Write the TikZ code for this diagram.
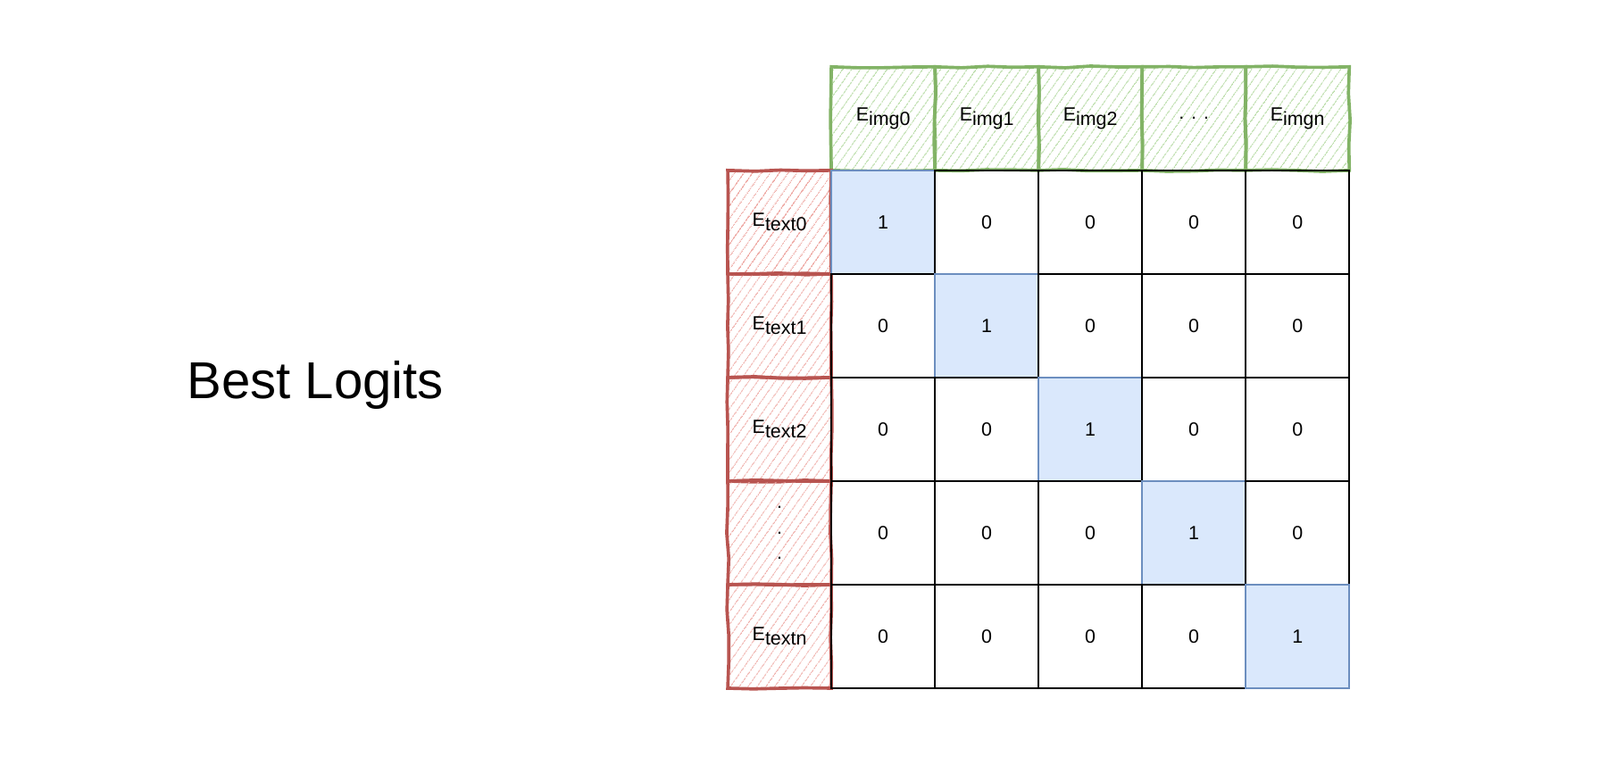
\documentclass[tikz,border=0pt]{standalone}
\usepackage{fontspec}
\setmainfont{Liberation Sans}
\usetikzlibrary{patterns.meta,decorations.pathmorphing}

\definecolor{imgline}{HTML}{82B366}
\definecolor{imghatch}{HTML}{B3D9A0}
\definecolor{txtline}{HTML}{B85450}
\definecolor{txthatch}{HTML}{EFADA8}
\definecolor{diagline}{HTML}{6C8EBF}
\definecolor{diagfill}{HTML}{DAE8FC}

\newcommand{\cellfont}{\fontsize{10.5}{14}\selectfont}
\newcommand{\titlefont}{\fontsize{28.5}{34}\selectfont}
\newcommand{\embsub}[1]{E\raisebox{-0.45ex}{#1}}

\tikzset{
	cell/.style={draw, line width=1.2pt, minimum size=2cm, inner sep=0pt, font=\cellfont},
	diagcell/.style={cell, draw=diagline, fill=diagfill},
	sketch/.style={line width=1.8pt, minimum size=2cm, inner sep=0pt, font=\cellfont, align=center,
		decorate, decoration={random steps, segment length=14pt, amplitude=0.6pt}},
	imgbox/.style={sketch, draw=imgline, pattern={Lines[angle=55,distance=4pt,line width=0.55pt]}, pattern color=imghatch},
	txtbox/.style={sketch, draw=txtline, pattern={Lines[angle=55,distance=4pt,line width=0.55pt]}, pattern color=txthatch}
}

\begin{document}
\begin{tikzpicture}
	\useasboundingbox (-16.05,3.29) rectangle (14.84,-11.47);
	
	% title
	\node [font=\titlefont, anchor=base] (title) at (-9.96,-4.41) {Best Logits};
	
	% image embeddings
	\node [imgbox] (img0) at (1,1) {\embsub{img0}};
	\node [imgbox] (img1) at (3,1) {\embsub{img1}};
	\node [imgbox] (img2) at (5,1) {\embsub{img2}};
	\node [imgbox] (imgd) at (7,1) {. . .};
	\node [imgbox] (imgn) at (9,1) {\embsub{imgn}};
	
	% text embeddings
	\node [txtbox] (txt0) at (-1,-1) {\embsub{text0}};
	\node [txtbox] (txt1) at (-1,-3) {\embsub{text1}};
	\node [txtbox] (txt2) at (-1,-5) {\embsub{text2}};
	\node [txtbox] (txtd) at (-1,-7) {.\\.\\.};
	\node [txtbox] (txtn) at (-1,-9) {\embsub{textn}};
	
	% logits
	\foreach \r in {0,...,4}
		\foreach \c in {0,...,4} {
			\ifnum\r=\c
				\node [diagcell] (c\r\c) at (2*\c+1,-2*\r-1) {1};
			\else
				\node [cell] (c\r\c) at (2*\c+1,-2*\r-1) {0};
			\fi
		}
\end{tikzpicture}
\end{document}
